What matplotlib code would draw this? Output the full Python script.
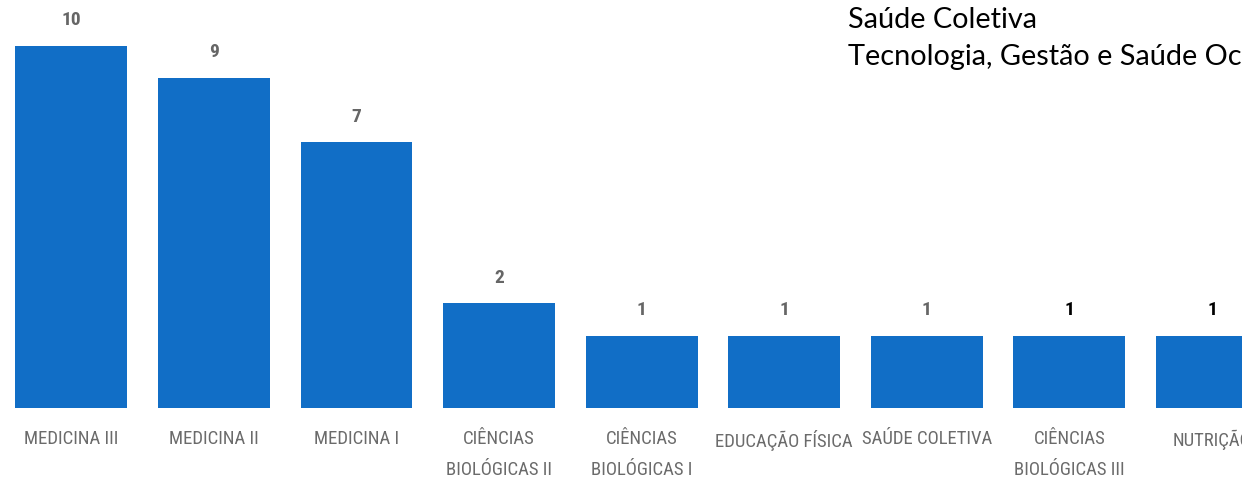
import numpy as np
import matplotlib.pyplot as plt

cursos = ['MEDICINA III', 'MEDICINA II', 'MEDICINA I', 'CIÊNCIAS\nBIOLÓGICAS II',
          'CIÊNCIAS\nBIOLÓGICAS I', 'EDUCAÇÃO FÍSICA', 'SAÚDE COLETIVA',
          'CIÊNCIAS\nBIOLÓGICAS III', 'NUTRIÇÃO']
valores = np.array([10, 9, 7, 2, 1, 1, 1, 1, 1])
cor_rotulo = ['#666666'] * 7 + ['#000000'] * 2
notas = ['Saúde Coletiva', 'Tecnologia, Gestão e Saúde Oc']

azul = '#116ec6'
base = -1.25  # the source chart does not start its bars at zero
estreita = ['Roboto Condensed', 'DejaVu Sans Condensed', 'Roboto', 'DejaVu Sans']

fig = plt.figure(figsize=(12.42, 4.82), dpi=100)
ax = fig.add_axes([0, 74 / 482, 1, 408 / 482])

x = np.arange(len(cursos))
ax.bar(x, valores - base, bottom=base, width=0.785, color=azul)

for xi, v, c in zip(x, valores, cor_rotulo):
    ax.annotate(str(v), (xi, v), xytext=(0, 12), textcoords='offset points',
                ha='center', va='bottom', fontsize=14, fontweight='bold', color=c,
                family=estreita)

ax.set_xlim(-0.5, 8.21)
ax.set_ylim(base, base + 408 / 32.2)
ax.set_xticks(x)
ax.set_xticklabels(cursos, fontsize=13.5, color='#6b6b6b', linespacing=1.95,
                   family=estreita)
ax.tick_params(axis='x', length=0, pad=15.5)
ax.set_yticks([])
for s in ax.spines.values():
    s.set_visible(False)

fig.text(848 / 1242, 1 - 28 / 482, notas[0], fontsize=20.8, family='Lato',
         va='baseline', ha='left', color='black')
fig.text(848 / 1242, 1 - 65 / 482, notas[1], fontsize=20.8, family='Lato',
         va='baseline', ha='left', color='black')

fig.savefig('out.png', dpi=100, facecolor='white')
